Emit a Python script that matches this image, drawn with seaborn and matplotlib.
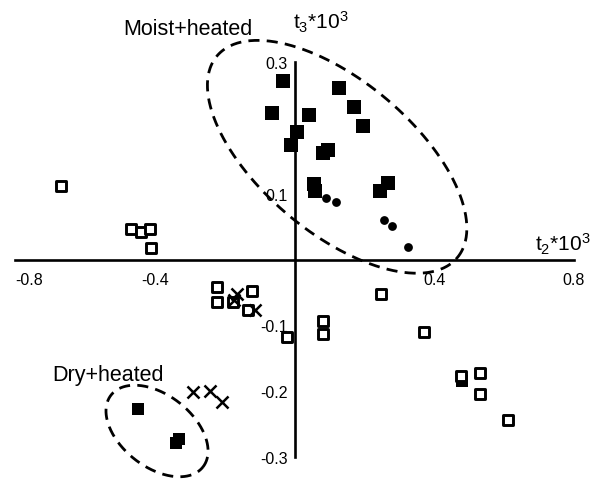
import numpy as np
import pandas as pd
import matplotlib
matplotlib.use("Agg")
import matplotlib.pyplot as plt
import seaborn as sns

# ---- data ----
moist_sq_x = [-0.032, -0.065, 0.042, 0.126, 0.171, 0.197, 0.007, -0.010, 0.082, 0.096, 0.056, 0.059, 0.245, 0.268]
moist_sq_y = [0.271, 0.223, 0.220, 0.261, 0.231, 0.203, 0.194, 0.174, 0.162, 0.166, 0.115, 0.104, 0.104, 0.116]
moist_circ_x = [0.090, 0.119, 0.257, 0.278, 0.326]
moist_circ_y = [0.093, 0.087, 0.060, 0.051, 0.019]
dry_sq_x = [-0.449, -0.340, -0.332]
dry_sq_y = [-0.227, -0.279, -0.272]
extra_sq_x = [0.478]
extra_sq_y = [-0.184]
open_sq_x = [-0.669, -0.468, -0.440, -0.414, -0.412, -0.223, -0.223, -0.175, -0.123, -0.132,
             -0.022, 0.247, 0.081, 0.081, 0.371, 0.477, 0.532, 0.532, 0.610]
open_sq_y = [0.111, 0.047, 0.042, 0.047, 0.018, -0.042, -0.064, -0.064, -0.048, -0.077,
             -0.118, -0.053, -0.093, -0.113, -0.110, -0.177, -0.173, -0.204, -0.244]
cross_x = [-0.165, -0.172, -0.113, -0.290, -0.242, -0.207]
cross_y = [-0.052, -0.062, -0.077, -0.202, -0.200, -0.217]

x_ticks = [-0.8, -0.4, 0.4, 0.8]
x_ticklabels = ["-0.8", "-0.4", "0.4", "0.8"]
y_ticks = [0.3, 0.1, -0.1, -0.2, -0.3]
y_ticklabels = ["0.3", "0.1", "-0.1", "-0.2", "-0.3"]

# group ellipses: centre (data), semi-axes (in x-data units), angle (deg, screen, clockwise)
moist_ell = dict(cx=0.122, cy=0.156, a=0.449, b=0.2175, angle=40)
dry_ell = dict(cx=-0.3935, cy=-0.2605, a=0.167, b=0.103, angle=38)

sns.set_style("white")
plt.rcParams["font.family"] = ["Liberation Sans", "DejaVu Sans"]
plt.rcParams["mathtext.default"] = "regular"
plt.rcParams["text.color"] = "black"
plt.rcParams["xtick.color"] = "black"
plt.rcParams["ytick.color"] = "black"

fig = plt.figure(figsize=(5.91, 4.81), dpi=100)
ax = fig.add_axes([15 / 591, 23 / 481, (574 - 15) / 591, (458 - 63) / 481])
ax.set_xlim(-0.8, 0.8)
ax.set_ylim(-0.3, 0.3)

sns.scatterplot(x=extra_sq_x, y=extra_sq_y, marker="s", s=80, color="black", linewidth=0, ax=ax, zorder=3)
sns.scatterplot(x=open_sq_x, y=open_sq_y, marker="s", s=58, facecolor="white",
                edgecolor="black", linewidth=2.1, ax=ax, zorder=4)
sns.scatterplot(x=moist_sq_x, y=moist_sq_y, marker="s", s=100, color="black", linewidth=0, ax=ax, zorder=5)
sns.scatterplot(x=dry_sq_x, y=dry_sq_y, marker="s", s=85, color="black", linewidth=0, ax=ax, zorder=5)
sns.scatterplot(x=moist_circ_x, y=moist_circ_y, marker="o", s=40, color="black", linewidth=0, ax=ax, zorder=5)
sns.scatterplot(x=cross_x, y=cross_y, marker="x", s=75, color="black", linewidth=1.8, ax=ax, zorder=5)

# axes through origin
for side in ["top", "right"]:
    ax.spines[side].set_visible(False)
ax.spines["left"].set_position(("data", 0))
ax.spines["bottom"].set_position(("data", 0))
for side in ["left", "bottom"]:
    ax.spines[side].set_linewidth(1.9)
    ax.spines[side].set_color("black")
    ax.spines[side].set_zorder(2)
ax.set_xticks(x_ticks)
ax.set_xticklabels(x_ticklabels)
ax.set_yticks(y_ticks)
ax.set_yticklabels(y_ticklabels)
ax.tick_params(axis="x", direction="out", length=4, width=1.9, labelsize=11.5, pad=5)
ax.tick_params(axis="y", direction="out", length=4, width=1.9, labelsize=11.5, pad=1)
xl = ax.get_xticklabels()
xl[0].set_horizontalalignment("left")

# ellipses (drawn in screen-proportional units so the tilt is preserved)
fig.canvas.draw()
p0 = ax.transData.transform((0, 0))
px_x = ax.transData.transform((1, 0))[0] - p0[0]
px_y = ax.transData.transform((0, 1))[1] - p0[1]
ratio = px_y / px_x
t = np.linspace(0, 2 * np.pi, 400)
for e in (moist_ell, dry_ell):
    th = np.deg2rad(-e["angle"])
    u = e["a"] * np.cos(t)
    v = e["b"] * np.sin(t)
    dx = u * np.cos(th) - v * np.sin(th)
    dy = u * np.sin(th) + v * np.cos(th)
    ax.plot(e["cx"] + dx, e["cy"] + dy / ratio, color="black", lw=2.0,
            linestyle=(0, (4.0, 2.6)), clip_on=False, zorder=6)

ax.text(-0.490, 0.3426, "Moist+heated", fontsize=15.5, ha="left", va="baseline")
ax.text(-0.694, -0.183, "Dry+heated", fontsize=15.5, ha="left", va="baseline")
ax.text(-0.003, 0.351, "t$_3$*10$^3$", fontsize=15, ha="left", va="baseline")
ax.text(0.688, 0.013, "t$_2$*10$^3$", fontsize=15, ha="left", va="baseline", clip_on=False)

fig.savefig("out.png", dpi=100)
